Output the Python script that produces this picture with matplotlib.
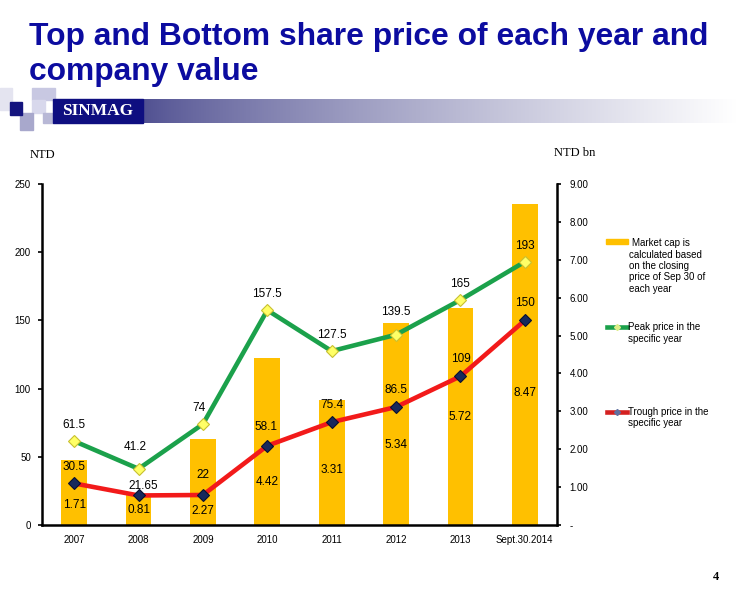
import matplotlib
matplotlib.use("Agg")
import matplotlib.pyplot as plt
import numpy as np
from matplotlib.patches import Rectangle
from matplotlib.lines import Line2D

# ---------------- data ----------------
categories = ["2007", "2008", "2009", "2010", "2011", "2012", "2013", "Sept.30.2014"]
peak_price = [61.5, 41.2, 74, 157.5, 127.5, 139.5, 165, 193]
trough_price = [30.5, 21.65, 22, 58.1, 75.4, 86.5, 109, 150]
market_cap = [1.71, 0.81, 2.27, 4.42, 3.31, 5.34, 5.72, 8.47]
peak_labels = ["61.5", "41.2", "74", "157.5", "127.5", "139.5", "165", "193"]
trough_labels = ["30.5", "21.65", "22", "58.1", "75.4", "86.5", "109", "150"]
cap_labels = ["1.71", "0.81", "2.27", "4.42", "3.31", "5.34", "5.72", "8.47"]
left_ticks = [0, 50, 100, 150, 200, 250]
right_ticks = [0, 1, 2, 3, 4, 5, 6, 7, 8, 9]
right_tick_labels = ["-", "1.00", "2.00", "3.00", "4.00", "5.00", "6.00", "7.00", "8.00", "9.00"]
legend_cap_lines = ["Market cap is", "calculated based", "on the closing",
                    "price of Sep 30 of", "each year"]
legend_peak_lines = ["Peak price in the", "specific year"]
legend_trough_lines = ["Trough price in the", "specific year"]

# ---------------- layout (pixel offsets of the labels) ----------------
peak_off = [(0, 16), (-3, 22), (-4, 16), (0, 16), (0, 16), (0, 23), (0, 16), (0, 16)]
trough_off = [(0, 16), (5, 9), (0, 20), (-1, 19), (0, 17), (0, 17), (0, 17), (0, 17)]
cap_label_y = [0.53, 0.40, 0.37, 1.13, 1.45, 2.11, 2.85, 3.48]

W, H = 737, 595
fig = plt.figure(figsize=(W / 100, H / 100), dpi=100)
plt.rcParams["font.family"] = ["Liberation Sans", "DejaVu Sans"]

def fx(x):
    return x / W

def fy(y):
    return 1 - y / H

# ---------------- header ----------------
title_color = "#0C0CA0"
fig.text(fx(29), fy(45), "Top and Bottom share price of each year and",
         fontsize=22.9, fontweight="bold", color=title_color, ha="left", va="baseline")
fig.text(fx(29), fy(80), "company value",
         fontsize=22.9, fontweight="bold", color=title_color, ha="left", va="baseline")

# gradient band
band_ax = fig.add_axes([fx(143), fy(123), fx(737 - 143), (123 - 99) / H])
band_ax.axis("off")
t = np.linspace(0, 1, 300)
t = t ** 0.8
c0 = np.array([80, 80, 145]) / 255.0
c1 = np.array([255, 255, 255]) / 255.0
grad = (c0[None, :] * (1 - t[:, None]) + c1[None, :] * t[:, None])[None, :, :]
band_ax.imshow(grad, aspect="auto", extent=[0, 1, 0, 1])

# logo squares
for (x0, y0, x1, y1, col) in [
    (0, 88, 12, 110, "#E4E4F0"),
    (32, 88, 55, 100, "#C8C8E2"),
    (32, 100, 45, 113, "#D8D8EC"),
    (20, 113, 33, 130, "#A8A8CC"),
    (43, 113, 53, 123, "#B8B8D6"),
    (10, 102, 22, 115, "#14147E"),
    (53, 99, 143, 123, "#0E0E80"),
]:
    fig.patches.append(Rectangle((fx(x0), fy(y1)), fx(x1 - x0), (y1 - y0) / H,
                                 transform=fig.transFigure, color=col, zorder=1))
fig.text(fx(98), fy(111), "SINMAG", fontsize=12.5, fontweight="bold",
         family=["Liberation Serif", "DejaVu Serif"], color="white",
         ha="center", va="center", zorder=3)

# ---------------- chart ----------------
ax = fig.add_axes([fx(42), fy(525), fx(557 - 42), (525 - 184) / H])
axr = ax.twinx()
ax.set_zorder(axr.get_zorder() + 1)
ax.patch.set_visible(False)

x = np.arange(len(categories))
axr.bar(x, market_cap, width=0.4, color="#FFC000", zorder=1)
axr.set_ylim(0, 9)
axr.set_yticks(right_ticks)
axr.set_yticklabels(right_tick_labels)

ax.plot(x, peak_price, color="#1BA14B", lw=3.3, marker="D", markersize=6,
        markerfacecolor="#FFFF66", markeredgecolor="#C8C030", markeredgewidth=0.8,
        zorder=3, solid_capstyle="round")
ax.plot(x, trough_price, color="#F21A1A", lw=3.3, marker="D", markersize=6,
        markerfacecolor="#17295C", markeredgecolor="#0A1030", markeredgewidth=0.8,
        zorder=3, solid_capstyle="round")
ax.set_ylim(0, 250)
ax.set_xlim(-0.5, len(categories) - 0.5)
ax.set_yticks(left_ticks)
ax.set_xticks(x)
ax.set_xticklabels(categories)

for i in range(len(categories)):
    ax.annotate(peak_labels[i], (x[i], peak_price[i]), xytext=peak_off[i],
                textcoords="offset pixels", ha="center", va="center", fontsize=8.5)
    ax.annotate(trough_labels[i], (x[i], trough_price[i]), xytext=trough_off[i],
                textcoords="offset pixels", ha="center", va="center", fontsize=8.5)
    axr.text(x[i], cap_label_y[i], cap_labels[i], ha="center", va="center", fontsize=8.5)

for a in (ax, axr):
    a.spines["top"].set_visible(False)
    a.spines["left"].set_linewidth(1.8)
    a.spines["right"].set_linewidth(1.8)
    a.spines["bottom"].set_linewidth(1.8)
ax.spines["right"].set_visible(False)
axr.spines["left"].set_visible(False)
axr.spines["bottom"].set_visible(False)

ax.tick_params(axis="y", direction="out", length=3, width=1.2, labelsize=7, pad=5)
ax.tick_params(axis="x", length=0, labelsize=7, pad=7)
axr.tick_params(axis="y", direction="out", length=3, width=1.2, labelsize=7, pad=6)

# axis unit labels
fig.text(fx(42), fy(155), "NTD", fontsize=9, family=["Liberation Serif", "DejaVu Serif"],
         ha="center", va="center")
fig.text(fx(575), fy(153), "NTD bn", fontsize=9, family=["Liberation Serif", "DejaVu Serif"],
         ha="center", va="center")

# ---------------- legend ----------------
fig.patches.append(Rectangle((fx(606), fy(244)), fx(22), 5 / H, transform=fig.transFigure,
                             color="#FFC000"))
cap_ys = [243, 254.5, 266, 277.5, 289]
for j, line in enumerate(legend_cap_lines):
    fig.text(fx(632 if j == 0 else 629), fy(cap_ys[j]), line, fontsize=7,
             ha="left", va="center")

fig.lines.append(Line2D([fx(607), fx(627)], [fy(327), fy(327)], transform=fig.transFigure,
                        color="#1BA14B", lw=3.3))
fig.lines.append(Line2D([fx(617)], [fy(327)], transform=fig.transFigure, marker="D",
                        markersize=3, markerfacecolor="#DDEE88", markeredgecolor="#DDEE88",
                        lw=0))
for j, line in enumerate(legend_peak_lines):
    fig.text(fx(628), fy(327 + 11.5 * j), line, fontsize=7, ha="left", va="center")

fig.lines.append(Line2D([fx(607), fx(627)], [fy(412), fy(412)], transform=fig.transFigure,
                        color="#D42020", lw=3.3))
fig.lines.append(Line2D([fx(617)], [fy(412)], transform=fig.transFigure, marker="D",
                        markersize=3, markerfacecolor="#6070A0", markeredgecolor="#6070A0",
                        lw=0))
for j, line in enumerate(legend_trough_lines):
    fig.text(fx(628), fy(412 + 11.5 * j), line, fontsize=7, ha="left", va="center")

# page number
fig.text(fx(716), fy(577), "4", fontsize=9, fontweight="bold",
         family=["Liberation Serif", "DejaVu Serif"], ha="center", va="center")

fig.savefig("out.png", dpi=100)
